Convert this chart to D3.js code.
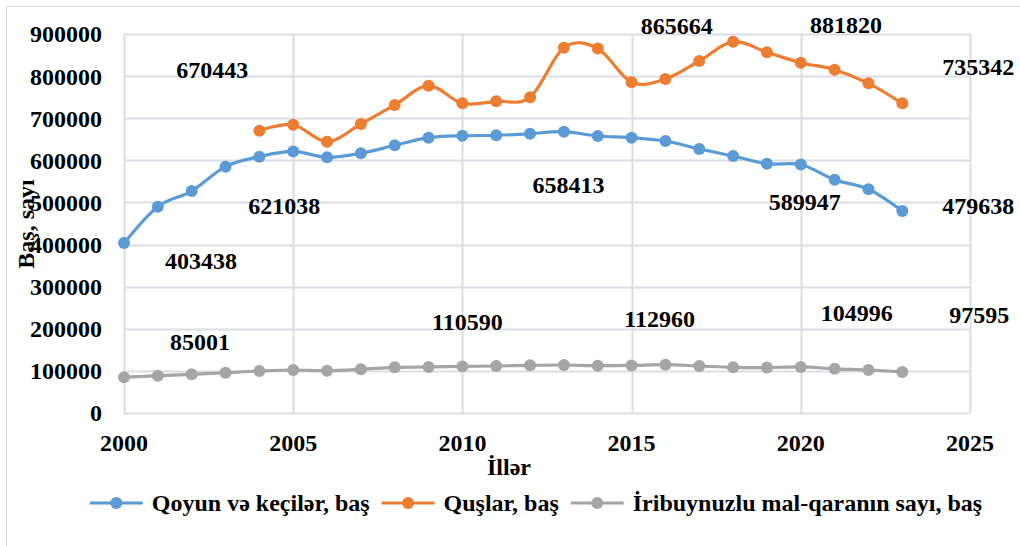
<!DOCTYPE html>
<html>
<head>
<meta charset="utf-8">
<script src="https://cdn.jsdelivr.net/npm/d3@7"></script>
<style>
  body { margin: 0; background: #fff; }
</style>
</head>
<body>
<div id="chart"></div>
<script>
// years on the x axis
var years = d3.range(2000, 2024);

// Qoyun və keçilər, baş
var sheepGoats = [403438, 490000, 527000, 585000, 608700, 621038, 607200, 616700,
    635700, 653800, 658413, 659400, 663300, 668000, 657800, 653800, 646000, 627000,
    610300, 592000, 589947, 554000, 531200, 479638];

// Quşlar, baş (from 2004)
var birdYears = d3.range(2004, 2024);
var birds = [670443, 684600, 644300, 686300, 731400, 777300, 735400, 740200, 749700,
    867500, 865664, 785300, 793200, 835900, 881820, 856600, 831900, 815200, 782900, 735342];

// İribuynuzlu mal-qaranın sayı, baş
var cattle = [85001, 88600, 91900, 95700, 99700, 102100, 100500, 103700, 108500, 109300,
    110590, 111600, 113200, 114000, 112300, 112960, 114700, 111600, 108500, 108000,
    109300, 104996, 102100, 97595];

var seriesNames = ["Qoyun və keçilər, baş", "Quşlar, baş", "İribuynuzlu mal-qaranın sayı, baş"];
var seriesColors = ["#5b9bd5", "#ed7d31", "#a5a5a5"];

var xTicks = [2000, 2005, 2010, 2015, 2020, 2025];
var yTicks = [0, 100000, 200000, 300000, 400000, 500000, 600000, 700000, 800000, 900000];

// data labels: series index, year, pixel offset of the label from its point
var dataLabels = [
    {s: 0, year: 2000, dx: 77, dy: 17},
    {s: 0, year: 2005, dx: -9, dy: 54},
    {s: 0, year: 2010, dx: 106, dy: 49},
    {s: 0, year: 2020, dx: 4, dy: 37},
    {s: 0, year: 2023, dx: 76, dy: -5},
    {s: 1, year: 2004, dx: -47, dy: -61},
    {s: 1, year: 2014, dx: 79, dy: -23},
    {s: 1, year: 2018, dx: 113, dy: -17},
    {s: 1, year: 2023, dx: 76, dy: -37},
    {s: 2, year: 2000, dx: 76, dy: -36},
    {s: 2, year: 2010, dx: 5, dy: -45},
    {s: 2, year: 2015, dx: 28, dy: -47},
    {s: 2, year: 2021, dx: 22, dy: -56},
    {s: 2, year: 2023, dx: 77, dy: -57}
];

var width = 1020, height = 546;
var margin = {top: 34, right: 50, bottom: 133, left: 124};
var fontSize = 24;
var fontFamily = "'Liberation Serif', 'Times New Roman', 'DejaVu Serif', serif";

var series = [
    years.map(function (y, i) { return {year: y, value: sheepGoats[i]}; }),
    birdYears.map(function (y, i) { return {year: y, value: birds[i]}; }),
    years.map(function (y, i) { return {year: y, value: cattle[i]}; })
];

var svg = d3.select("#chart").append("svg")
    .attr("width", width)
    .attr("height", height)
    .attr("font-family", fontFamily)
    .attr("font-weight", "bold")
    .attr("font-size", fontSize);

// outer chart border (only top and left fall inside the picture)
svg.append("rect")
    .attr("x", 6.5).attr("y", 6.5)
    .attr("width", width + 20).attr("height", height + 20)
    .attr("fill", "none")
    .attr("stroke", "#d9d9d9")
    .attr("stroke-width", 1);

var x = d3.scaleLinear().domain([2000, 2025]).range([margin.left, width - margin.right]);
var y = d3.scaleLinear().domain([0, 900000]).range([height - margin.bottom, margin.top]);

// gridlines
svg.append("g").selectAll("line").data(yTicks).enter().append("line")
    .attr("x1", x(2000)).attr("x2", x(2025))
    .attr("y1", function (d) { return Math.round(y(d)) + 0.5; })
    .attr("y2", function (d) { return Math.round(y(d)) + 0.5; })
    .attr("stroke", "#d9dee6").attr("stroke-width", 2);

svg.append("g").selectAll("line").data(xTicks).enter().append("line")
    .attr("x1", function (d) { return Math.round(x(d)) + 0.5; })
    .attr("x2", function (d) { return Math.round(x(d)) + 0.5; })
    .attr("y1", y(0)).attr("y2", y(900000))
    .attr("stroke", "#d9dee6").attr("stroke-width", 2);

// tick labels
svg.append("g").selectAll("text").data(yTicks).enter().append("text")
    .attr("x", x(2000) - 22)
    .attr("y", function (d) { return y(d); })
    .attr("dy", "0.35em")
    .attr("text-anchor", "end")
    .text(function (d) { return d; });

svg.append("g").selectAll("text").data(xTicks).enter().append("text")
    .attr("x", function (d) { return x(d); })
    .attr("y", y(0) + 30)
    .attr("dy", "0.35em")
    .attr("text-anchor", "middle")
    .text(function (d) { return d; });

// axis titles
svg.append("text")
    .attr("transform", "translate(26," + 224 + ") rotate(-90)")
    .attr("dy", "0.35em")
    .attr("text-anchor", "middle")
    .text("Baş, sayı");

svg.append("text")
    .attr("x", (x(2000) + x(2025)) / 2 - 38)
    .attr("y", y(0) + 54)
    .attr("dy", "0.35em")
    .attr("text-anchor", "middle")
    .text("İllər");

// lines and markers
var line = d3.line()
    .x(function (d) { return x(d.year); })
    .y(function (d) { return y(d.value); })
    .curve(d3.curveCatmullRom.alpha(0));

series.forEach(function (data, i) {
    svg.append("path")
        .datum(data)
        .attr("d", line)
        .attr("fill", "none")
        .attr("stroke", seriesColors[i])
        .attr("stroke-width", 3.2)
        .attr("stroke-linejoin", "round");

    svg.append("g").selectAll("circle").data(data).enter().append("circle")
        .attr("cx", function (d) { return x(d.year); })
        .attr("cy", function (d) { return y(d.value); })
        .attr("r", 6)
        .attr("fill", seriesColors[i]);
});

// data labels
svg.append("g").selectAll("text").data(dataLabels).enter().append("text")
    .attr("x", function (d) { return x(d.year) + d.dx; })
    .attr("y", function (d) {
        var p = series[d.s].find(function (e) { return e.year == d.year; });
        return y(p.value) + d.dy;
    })
    .attr("dy", "0.35em")
    .attr("text-anchor", "middle")
    .text(function (d) {
        var p = series[d.s].find(function (e) { return e.year == d.year; });
        return p.value;
    });

// legend
var legend = svg.append("g");
var legendY = 503;
var items = legend.selectAll("g").data(seriesNames).enter().append("g");
items.append("line")
    .attr("x1", 0).attr("x2", 53)
    .attr("y1", legendY).attr("y2", legendY)
    .attr("stroke", function (d, i) { return seriesColors[i]; })
    .attr("stroke-width", 3.2);
items.append("circle")
    .attr("cx", 26.5).attr("cy", legendY).attr("r", 6)
    .attr("fill", function (d, i) { return seriesColors[i]; });
items.append("text")
    .attr("x", 62).attr("y", legendY)
    .attr("dy", "0.35em")
    .text(function (d) { return d; });

var offsets = [], total = 0;
items.each(function () {
    offsets.push(total);
    total += 62 + d3.select(this).select("text").node().getComputedTextLength() + 12;
});
total -= 12;
var start = 536 - total / 2;
items.attr("transform", function (d, i) { return "translate(" + (start + offsets[i]) + ",0)"; });
</script>
</body>
</html>
